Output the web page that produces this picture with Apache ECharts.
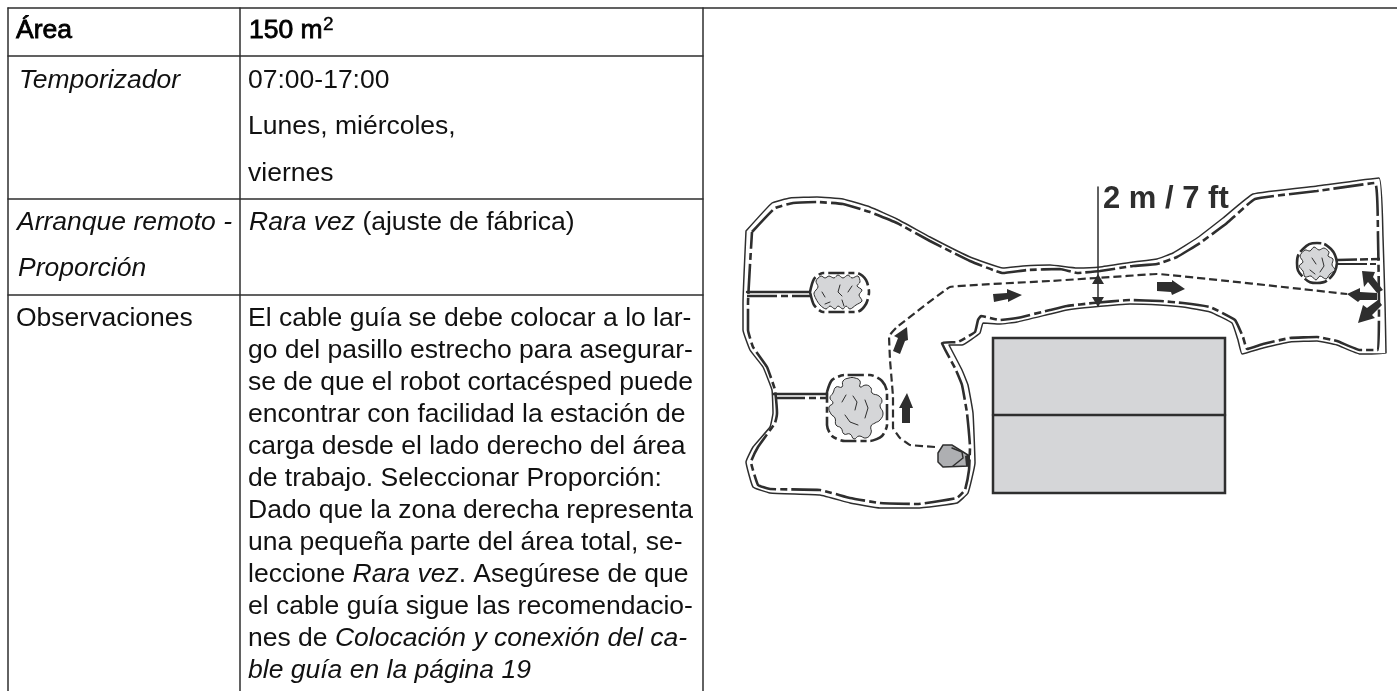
<!DOCTYPE html>
<html><head><meta charset="utf-8">
<style>html,body{margin:0;padding:0;background:#fff}#c{width:1397px;height:691px}</style>
<script src="https://cdn.jsdelivr.net/npm/echarts@6/dist/echarts.min.js"></script>
</head><body><div id="c"></div>
<script>
// ---- table rules
const tableH1=[[8,8],[1397,8]];
const tableH2=[[8,56],[703,56]];
const tableH3=[[8,199],[703,199]];
const tableH4=[[8,295],[703,295]];
const tableV1=[[8,8],[8,691]];
const tableV2=[[240,8],[240,691]];
const tableV3=[[703,8],[703,691]];
// ---- table text
const cellTexts=["{b|Área}","{b|150 m}","{sup|2}","{i|Temporizador}","07:00-17:00","Lunes, miércoles,","viernes",
"{i|Arranque remoto -}","{i|Proporción}","{i|Rara vez} (ajuste de fábrica)","Observaciones",
"El cable guía se debe colocar a lo lar-","go del pasillo estrecho para asegurar-","se de que el robot cortacésped puede","encontrar con facilidad la estación de","carga desde el lado derecho del área","de trabajo. Seleccionar Proporción:","Dado que la zona derecha representa","una pequeña parte del área total, se-","leccione {i|Rara vez}. Asegúrese de que","el cable guía sigue las recomendacio-","nes de {i|Colocación y conexión del ca-}","{i|ble guía en la página 19}"];
const cellX=[16,249,323,19,248,248,248,17,18,249,16,248,248,248,248,248,248,248,248,248,248,248,248];
const cellY=[31,31,25,81,81,127,174,223,269,223,319,319,351,383,415,447,479,511,543,575,607,639,671];
// ---- lawn boundary
const outerWire=[[746,231],[772,203],[790,198],[817,197],[843,199],[870,207],[897,219],[930,237],[970,257],[1003,268],[1023,266],[1050,265],[1077,268],[1100,267],[1133,262],[1157,259],[1173,253],[1197,238],[1223,218],[1253,194],[1317,186],[1379,178],[1383,237],[1385,303],[1386,353],[1360,354],[1337,345],[1317,341],[1290,342],[1263,348],[1242,354],[1238,340],[1232,323],[1210,312],[1183,307],[1160,305],[1130,304],[1093,307],[1067,310],[1050,314],[1017,322],[1000,324],[983,323],[980,333],[962,345],[949,345],[962,370],[968,385],[973,413],[975,463],[968,493],[957,503],[917,508],[880,508],[850,503],[820,495],[770,493],[753,487],[746,462],[753,447],[770,427],[773,413],[772,390],[763,367],[750,350],[743,330],[743,303],[746,231]];
const innerWire=[[752,232],[775,208],[793,203],[817,202],[843,204],[870,212],[897,223],[930,241],[970,261],[1003,273],[1027,270],[1060,269],[1077,273],[1100,271],[1133,266],[1157,264],[1177,257],[1200,243],[1227,223],[1255,199],[1317,191],[1375,183],[1378,237],[1379,303],[1378,350],[1360,350],[1337,341],[1317,337],[1290,338],[1263,344],[1247,349],[1243,337],[1235,320],[1210,307],[1183,303],[1160,301],[1130,300],[1093,303],[1067,306],[1050,310],[1017,318],[1000,320],[981,316],[978,320],[975,332],[958,342],[942,343],[955,368],[962,385],[967,413],[970,447],[969,470],[965,490],[957,498],[917,504],[880,503],[850,498],[820,490],[770,489],[758,485],[751,462],[758,447],[775,423],[777,413],[775,390],[767,367],[753,347],[748,330],[748,303],[752,232]];
const spur1Solid=[[747,292],[810,292]];
const spur1Dash=[[747,296],[810,296]];
const spur2Solid=[[773,394],[827,394]];
const spur2Dash=[[775,398],[828,398]];
const spur3Dash=[[1337,260],[1380,259]];
const spur3Solid=[[1337,264],[1379,264]];
const loop1=[[810,292],[814,279],[823,273],[857,273],[866,280],[869,292],[866,304],[857,312],[823,312],[814,305],[810,292]];
const loop2=[[827,392],[832,380],[845,375],[870,375],[882,381],[887,392],[887,425],[882,436],[870,441],[845,441],[832,436],[827,425],[827,392]];
const loop3=[[1337,263],[1331,249],[1317,243],[1303,249],[1297,263],[1303,277],[1317,283],[1331,277],[1337,263]];
const guideWire=[[935,447],[910,445],[900,438],[893,428],[893,397],[890,360],[889,336],[897,327],[950,287],[1050,281],[1097,278],[1157,274],[1347,294]];
const dimensionLine=[[1098,187],[1098,306]];
// ---- filled shapes
const bed=[[993,338],[1225,338],[1225,493],[993,493]];
const bedDivider=[[993,415],[1225,415]];
const rock1=[[816,281],[821,276],[825,278],[829,276],[834,278],[838,275],[843,278],[848,275],[852,278],[858,276],[860,282],[857,286],[862,290],[859,295],[862,301],[856,305],[850,309],[846,306],[843,309],[838,306],[835,309],[830,306],[826,309],[820,305],[816,299],[814,293],[818,287]];
const bush2=[[833,393],[836,387],[842,387],[843,381],[849,378],[855,378],[860,381],[860,387],[866,385],[871,388],[872,393],[879,396],[882,401],[880,406],[883,413],[880,420],[875,423],[871,426],[871,433],[866,438],[859,436],[854,439],[850,434],[844,434],[841,428],[836,425],[835,418],[831,414],[829,407],[833,403],[830,398]];
const bush3=[[1305,250],[1310,251],[1314,247],[1319,250],[1324,248],[1329,252],[1328,256],[1333,259],[1332,265],[1335,270],[1330,274],[1326,279],[1320,276],[1316,280],[1311,276],[1305,277],[1303,271],[1299,266],[1303,262],[1300,256]];
const robot=[[943,445],[952,445],[968,455],[969,466],[943,467],[938,462],[938,453]];
const robotNose=[[965,456],[970,454],[970,466],[966,466]];
const arrowA=[[993,294],[1007,293],[1007,289],[1022,295],[1008,302],[1008,299],[994,302]];
const arrowB=[[1157,282],[1172,282],[1172,280],[1185,289],[1172,295],[1171,292],[1157,291]];
const arrowC=[[907,327],[908,340],[905,341],[900,354],[893,351],[898,338],[894,336]];
const arrowD=[[907,393],[913,408],[910,408],[910,423],[902,423],[902,408],[899,408]];
const arrowE=[[1347,294],[1360,288],[1360,292],[1377,293],[1377,300],[1360,300],[1358,302]];
const arrowF=[[1362,271],[1375,272],[1373,277],[1383,290],[1377,293],[1368,282],[1364,287]];
const arrowG=[[1358,323],[1363,305],[1367,308],[1378,300],[1382,305],[1372,315],[1375,318]];
const dimArrowUp=[[1098,274],[1104,284],[1092,284]];
const dimArrowDown=[[1098,307],[1092,297],[1104,297]];
// ---- small details
const robotInner=[[952,448],[962,452],[963,458],[953,466]];
const bushMarks=[[[853,396],[857,402],[855,410]],[[845,415],[850,422],[858,425]],[[865,400],[868,408],[865,418]],[[846,395],[842,402]]];
const rockMarks=[[[840,285],[838,292],[842,296]],[[852,286],[848,292]],[[822,292],[825,297]],[[842,300],[844,306]],[[830,302],[825,304]]];
const bush3Marks=[[[1312,258],[1316,264]],[[1322,258],[1324,266],[1320,272]],[[1310,270],[1315,274]]];
const dimensionText="2 m / 7 ft";
const dimensionTextPos=[1103,199];

const ink="#2e2e2e", grey="#d5d6d8", robotGrey="#aeafb2", textInk="#111", face="Liberation Sans";
function stroke(data,width,dash,smooth,z){
  return {type:'line',data:data,symbol:'none',silent:true,clip:false,smooth:smooth||0,z:z||3,animation:false,
    lineStyle:{color:ink,width:width,type:dash||'solid',cap:dash?'butt':'round',join:'round'}};
}
const fills=[
  {p:bed,fill:grey,line:ink,w:2.5},
  {p:rock1,fill:grey,line:ink,w:1,s:0.3},
  {p:bush2,fill:grey,line:ink,w:1,s:0.5},
  {p:bush3,fill:grey,line:ink,w:1,s:0.3},
  {p:robot,fill:robotGrey,line:ink,w:1.5},
  {p:robotNose,fill:ink,line:ink,w:0},
  {p:arrowA,fill:ink},{p:arrowB,fill:ink},{p:arrowC,fill:ink},{p:arrowD,fill:ink},
  {p:arrowE,fill:ink},{p:arrowF,fill:ink},{p:arrowG,fill:ink},
  {p:dimArrowUp,fill:ink},{p:dimArrowDown,fill:ink}
];
const dashWire=[30,4,7,4], dashIsl=[16,4,6,4], dashGuide=[8,4];
const richStyles={
  i:{fontStyle:'italic',fontSize:26.5,fontFamily:face,fill:textInk},
  b:{fontSize:26.5,fontFamily:face,fill:'#000',stroke:'#000',lineWidth:0.8},
  sup:{fontSize:19,fontFamily:face,fill:'#000',stroke:'#000',lineWidth:0.4}
};
const series=[
  stroke(tableH1,1.5),stroke(tableH2,1.5),stroke(tableH3,1.5),stroke(tableH4,1.5),
  stroke(tableV1,1.5),stroke(tableV2,1.5),stroke(tableV3,1.5),
  stroke(outerWire,1.5,null,0.1),stroke(innerWire,2.6,dashWire,0.1),
  stroke(spur1Solid,2.4),stroke(spur1Dash,2.6,dashWire),
  stroke(spur2Solid,2.4),stroke(spur2Dash,2.6,dashWire),
  stroke(spur3Dash,2.6,[20,3,8,3]),stroke(spur3Solid,2,[30,3,6,3]),
  stroke(loop1,2.6,dashIsl,0.25),stroke(loop2,2.6,dashIsl,0.25),stroke(loop3,2.6,[24,3],0.5),
  stroke(guideWire,2.2,dashGuide,0.05),stroke(dimensionLine,1.5),
  {type:'custom',silent:true,clip:false,z:4,animation:false,data:fills.map((f,i)=>[i]),encode:{x:[],y:[]},
    renderItem:function(params,api){
      const f=fills[params.dataIndex];
      return {type:'polygon',shape:{points:f.p.map(q=>api.coord(q)),smooth:f.s||0},
        style:{fill:f.fill,stroke:f.line||null,lineWidth:f.w||0}};
    }},
  stroke(bedDivider,2.5,null,0,5),stroke(robotInner,1.5,null,0,5),
  ...bushMarks.map(m=>stroke(m,1,null,0,5)),...rockMarks.map(m=>stroke(m,1,null,0,5)),...bush3Marks.map(m=>stroke(m,1,null,0,5)),
  {type:'custom',silent:true,clip:false,z:6,animation:false,encode:{x:0,y:1},
    data:cellTexts.map((t,i)=>[cellX[i],cellY[i]]),
    renderItem:function(params,api){
      const c=api.coord([api.value(0),api.value(1)]);
      return {type:'text',x:c[0],y:c[1],
        style:{text:cellTexts[params.dataIndex],fontSize:26.5,fontFamily:face,fill:textInk,
          align:'left',verticalAlign:'middle',rich:richStyles}};
    }},
  {type:'custom',silent:true,clip:false,z:6,animation:false,encode:{x:0,y:1},data:[dimensionTextPos],
    renderItem:function(params,api){
      const c=api.coord([api.value(0),api.value(1)]);
      return {type:'text',x:c[0],y:c[1],
        style:{text:dimensionText,fontSize:31,fontWeight:'bold',fontFamily:face,fill:ink,align:'left',verticalAlign:'middle'}};
    }}
];
const chart=echarts.init(document.getElementById('c'));
chart.setOption({animation:false,backgroundColor:'#fff',
  grid:{left:0,right:0,top:0,bottom:0},
  xAxis:{type:'value',min:0,max:1397,show:false},
  yAxis:{type:'value',min:0,max:691,inverse:true,show:false},
  tooltip:{show:false},series:series});
</script></body></html>
